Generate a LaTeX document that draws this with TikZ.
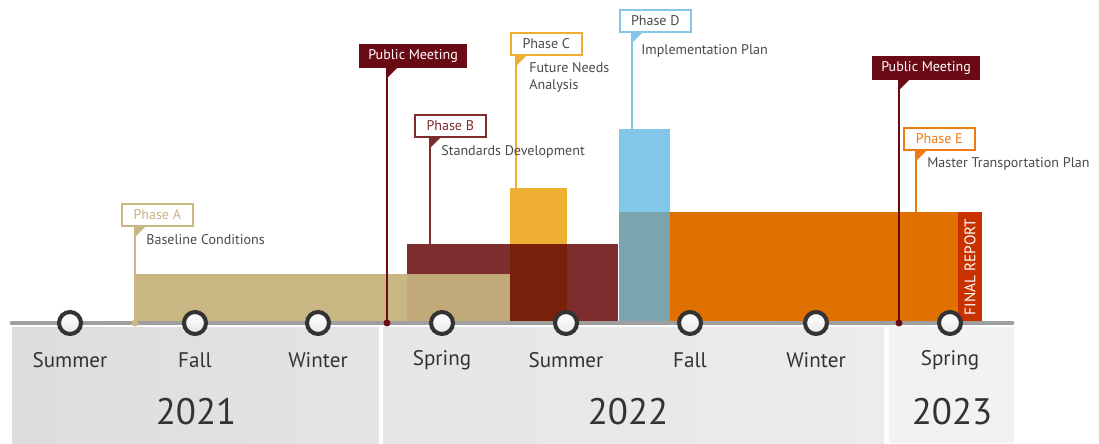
\documentclass[tikz,border=0pt]{standalone}
\usepackage{fontspec}
\setmainfont{PT Sans}
\usetikzlibrary{positioning,calc}

\definecolor{tanA}{HTML}{C8B683}
\definecolor{tanB}{HTML}{C2A97A}
\definecolor{redB}{HTML}{7E2D2E}
\definecolor{redC}{HTML}{78200A}
\definecolor{yelC}{HTML}{EDAE32}
\definecolor{bluD}{HTML}{82C6E8}
\definecolor{tealD}{HTML}{7AA5AE}
\definecolor{oraE}{HTML}{E07000}
\definecolor{oraF}{HTML}{EE7B12}
\definecolor{finR}{HTML}{C83200}
\definecolor{meet}{HTML}{6A0A14}
\definecolor{txtG}{HTML}{4A4A4A}
\definecolor{ringG}{HTML}{333333}

\begin{document}
\begin{tikzpicture}[x=0.02cm,y=-0.02cm,font=\small]
\tikzstyle{phase}=[draw,line width=0.9pt,fill=white,inner sep=0pt,minimum width=1.42cm,minimum height=0.45cm,anchor=north west,font=\footnotesize]
\tikzstyle{meeting}=[fill=meet,text=white,inner sep=0pt,minimum width=2.15cm,minimum height=0.47cm,anchor=north west,font=\footnotesize]
\tikzstyle{pole}=[line width=1.2pt]
\tikzstyle{lbl}=[text=txtG,font=\footnotesize,inner sep=0pt,anchor=west,align=left]
\tikzstyle{season}=[text=ringG,font=\large]
\tikzstyle{year}=[text=ringG,font=\fontsize{21}{25}\selectfont]
\tikzstyle{ring}=[circle,draw=ringG,line width=2.3pt,minimum size=0.44cm,inner sep=0pt,top color=white,bottom color=gray!18]
\useasboundingbox (0,0) rectangle (1099,443);

% year panels
\fill[left color=gray!27,right color=gray!21] (12,327) rectangle (379,443);
\fill[left color=gray!20,right color=gray!15] (383,327) rectangle (884,443);
\fill[gray!10] (889,327) rectangle (1014,443);

% phase bars
\fill[tanA] (135,274) rectangle (510,323);
\fill[redB] (407,244) rectangle (618,323);
\fill[tanB] (407,274) rectangle (510,323);
\fill[yelC] (510,188) rectangle (567,323);
\fill[redC] (510,244) rectangle (567,323);
\fill[bluD] (619,129) rectangle (670,323);
\fill[oraE] (619,212) rectangle (958,323);
\fill[tealD] (619,212) rectangle (670,323);
\fill[finR] (958,212) rectangle (982,323);
\node[rotate=90,text=white,font=\fontsize{8.7}{10}\selectfont,inner sep=0pt] (final) at (970,267) {FINAL REPORT};

% timeline
\draw[gray!75,line width=2.8pt,line cap=round] (12,323) -- (1012,323);

% flags
\node[phase,draw=tanA,text=tanA] (flagA) at (121,203) {Phase A};
\node[meeting] (meetA) at (359,44) {Public Meeting};
\node[phase,draw=redB,text=redB] (flagB) at (414,114) {Phase B};
\node[phase,draw=yelC,text=txtG] (flagC) at (510,32) {Phase C};
\node[phase,draw=bluD,text=txtG] (flagD) at (619,9) {Phase D};
\node[meeting] (meetB) at (872,56) {Public Meeting};
\node[phase,draw=oraF,text=oraF] (flagE) at (903,127) {Phase E};

\coordinate (endA) at (135,323);
\coordinate (endM1) at (387,323);
\coordinate (endB) at (430,244);
\coordinate (endC) at (516,188);
\coordinate (endD) at (632,129);
\coordinate (endM2) at (899,323);
\coordinate (endE) at (916,212);

\foreach \f/\e/\c in {flagA/endA/tanA,meetA/endM1/meet,flagB/endB/redB,flagC/endC/yelC,flagD/endD/bluD,meetB/endM2/meet,flagE/endE/oraF}{
  \draw[pole,\c] (\f.south -| \e) -- (\e);
  \fill[\c] (\f.south -| \e) -- ++(10,0) -- ++(-10,10) -- cycle;
}
\fill[tanA] (endA) circle (3.5);
\fill[meet] (endM1) circle (3.5);
\fill[meet] (endM2) circle (3.5);

% flag texts
\node[lbl] (txtA) at (146,240) {Baseline Conditions};
\node[lbl] (txtB) at (441,152) {Standards Development};
\node[lbl,anchor=north west] (txtC) at (529,62) {Future Needs\\Analysis};
\node[lbl] (txtD) at (641,51) {Implementation Plan};
\node[lbl] (txtE) at (927,164) {Master Transportation Plan};

% seasons
\foreach \cx/\sn [count=\i] in {70/Summer,195/Fall,318/Winter,442/Spring,566/Summer,690/Fall,816/Winter,950/Spring}{
  \node[ring] (c\i) at (\cx,323) {};
  \node[season] (s\i) at (\cx,360) {\sn};
}

% years
\node[year] (y21) at (196,412) {2021};
\node[year] (y22) at (628,412) {2022};
\node[year] (y23) at (952,412) {2023};
\end{tikzpicture}
\end{document}
